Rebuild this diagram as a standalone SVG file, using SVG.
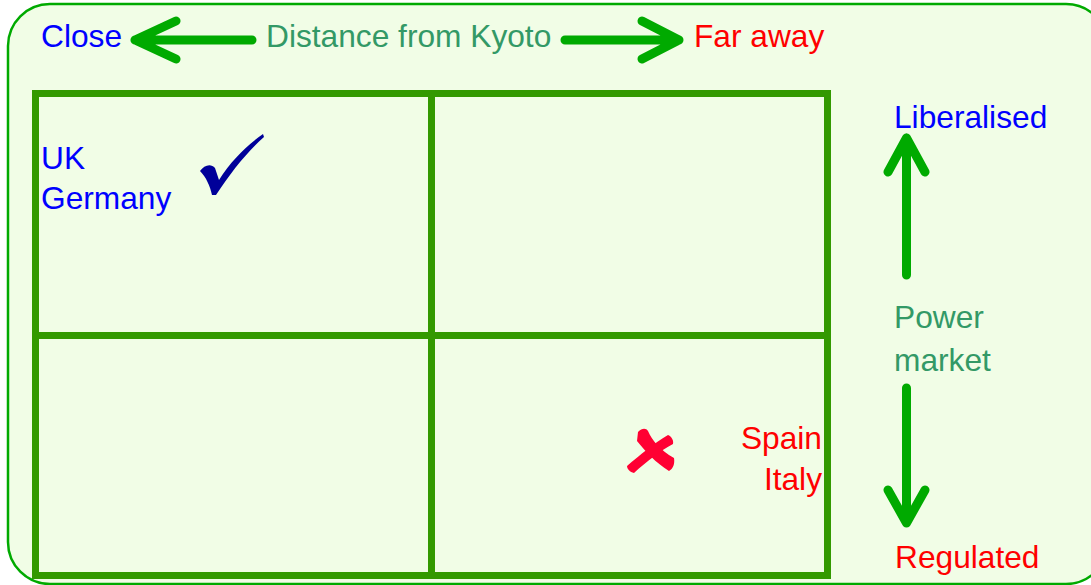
<svg xmlns="http://www.w3.org/2000/svg" width="1091" height="585" viewBox="0 0 1091 585">
<style>
.t{font-family:"Liberation Sans",Arial,sans-serif;font-size:31.7px}
.blue{fill:#0000ff}.red{fill:#ff0000}.grn{fill:#339966}
.arr{stroke:#00aa00;stroke-width:9;fill:none;stroke-linecap:round;stroke-linejoin:round}
.grid{stroke:#339900;stroke-width:7;fill:none}
</style>
<rect width="1091" height="585" fill="#ffffff"/>
<rect id="frame" x="8" y="4" width="1100" height="580" rx="42" ry="42" fill="#f1fde6" stroke="#00aa00" stroke-width="2.5"/>
<g id="grid">
<rect class="grid" x="35.5" y="93.5" width="792" height="482"/>
<line class="grid" x1="431.5" y1="93.5" x2="431.5" y2="575.5"/>
<line class="grid" x1="35.5" y1="335.5" x2="827.5" y2="335.5"/>
</g>
<g id="connectors">
<path class="arr" d="M252,40 H135 M176,21 L135,40 L176,59"/>
<path class="arr" d="M565,40 H679 M642,21 L679,40 L642,59"/>
<path class="arr" d="M906.5,275 V138 M888,172 L906.5,138 L925,172"/>
<path class="arr" d="M906.5,388 V523 M888,490 L906.5,523 L925,490"/>
</g>
<g id="top-labels">
<text class="t blue" x="41" y="47">Close</text>
<text class="t grn" x="266" y="47">Distance from Kyoto</text>
<text class="t red" x="694" y="47">Far away</text>
</g>
<g id="side-labels">
<text class="t blue" x="894" y="128">Liberalised</text>
<text class="t grn" x="894" y="328">Power</text>
<text class="t grn" x="894" y="371">market</text>
<text class="t red" x="895" y="568">Regulated</text>
</g>
<g id="q1">
<text class="t blue" x="41" y="169">UK</text>
<text class="t blue" x="41" y="209">Germany</text>
<path id="check" fill="#000099" d="M200,171 C204,165 211,163 215,168 L219,180 C231,161 246,146 263,134 L264,137 C248,151 231,172 216,195 L212,195 C210,186 206,177 200,171 Z"/>
</g>
<g id="q4">
<text class="t red" x="822" y="449" text-anchor="end">Spain</text>
<text class="t red" x="822" y="490" text-anchor="end">Italy</text>
<g id="cross" fill="#ff0033">
<path d="M638,432 C642,428 646,428 648,431 C652,440 660,450 674,458 C675,464 673,469 669,471 C656,463 645,451 637,441 Z"/>
<path d="M668,435 C671,436 674,440 673,444 C660,451 647,461 634,473 C630,472 627,469 627,466 C640,455 654,443 668,435 Z"/>
</g>
</g>
</svg>
